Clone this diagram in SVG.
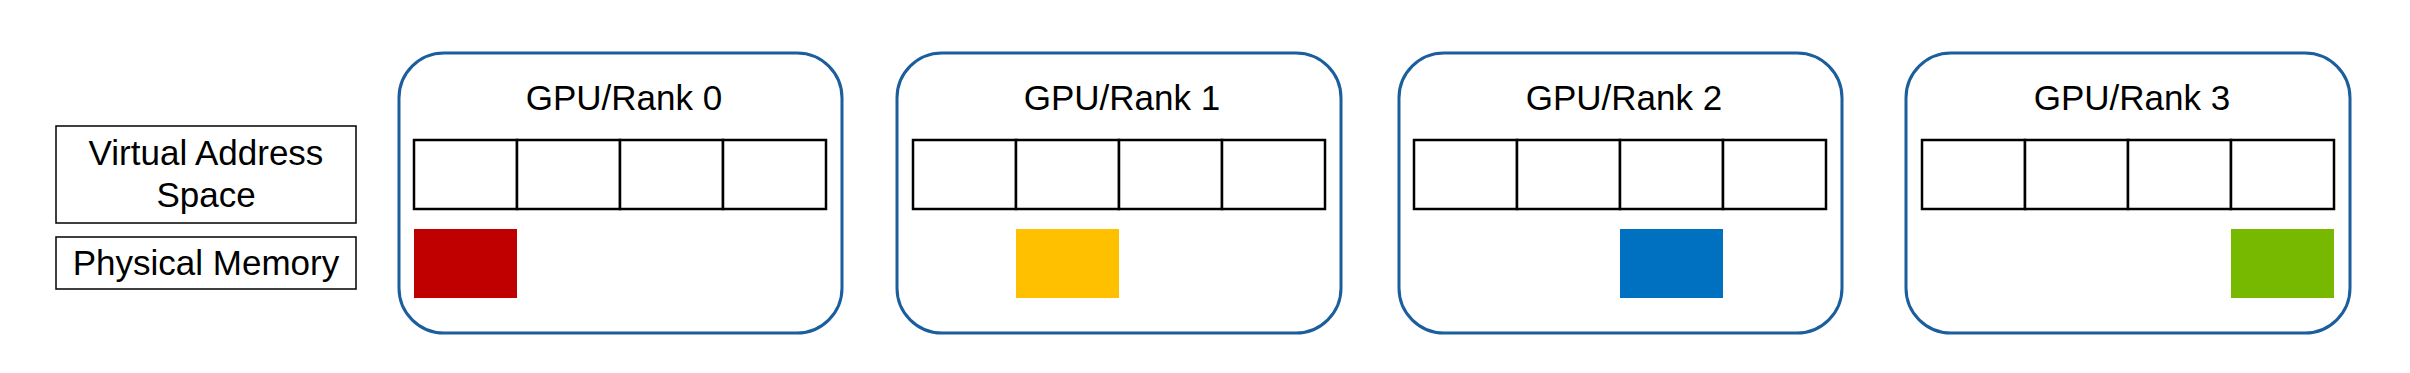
<svg xmlns="http://www.w3.org/2000/svg" width="2410" height="373" viewBox="0 0 2410 373">
<style>
.bg{fill:#ffffff}
.legend{fill:#ffffff;stroke:#000000;stroke-width:1.5}
.gpu{fill:#ffffff;stroke:#1A5E9E;stroke-width:3}
.cell{fill:#ffffff;stroke:#000000;stroke-width:2.5}
.t{font-family:"Liberation Sans",Arial,sans-serif;font-size:35px;fill:#000000;text-anchor:middle}
</style>
<rect class="bg" x="0" y="0" width="2410" height="373"/>
<g id="legend-virtual">
<rect class="legend" x="56" y="126" width="300" height="97"/>
<text class="t" x="206" y="165">Virtual Address</text>
<text class="t" x="206" y="207">Space</text>
</g>
<g id="legend-physical">
<rect class="legend" x="56" y="237" width="300" height="52"/>
<text class="t" x="206" y="275">Physical Memory</text>
</g>
<g id="gpu0">
<rect class="gpu" x="399" y="53" width="443" height="280" rx="45" ry="45"/>
<text class="t" x="624" y="110">GPU/Rank 0</text>
<rect class="cell" x="414" y="140" width="103" height="69"/>
<rect class="cell" x="517" y="140" width="103" height="69"/>
<rect class="cell" x="620" y="140" width="103" height="69"/>
<rect class="cell" x="723" y="140" width="103" height="69"/>
<rect x="414" y="229" width="103" height="69" fill="#C00000"/>
</g>
<g id="gpu1">
<rect class="gpu" x="897" y="53" width="444" height="280" rx="45" ry="45"/>
<text class="t" x="1122" y="110">GPU/Rank 1</text>
<rect class="cell" x="913" y="140" width="103" height="69"/>
<rect class="cell" x="1016" y="140" width="103" height="69"/>
<rect class="cell" x="1119" y="140" width="103" height="69"/>
<rect class="cell" x="1222" y="140" width="103" height="69"/>
<rect x="1016" y="229" width="103" height="69" fill="#FFC000"/>
</g>
<g id="gpu2">
<rect class="gpu" x="1399" y="53" width="443" height="280" rx="45" ry="45"/>
<text class="t" x="1624" y="110">GPU/Rank 2</text>
<rect class="cell" x="1414" y="140" width="103" height="69"/>
<rect class="cell" x="1517" y="140" width="103" height="69"/>
<rect class="cell" x="1620" y="140" width="103" height="69"/>
<rect class="cell" x="1723" y="140" width="103" height="69"/>
<rect x="1620" y="229" width="103" height="69" fill="#0070C0"/>
</g>
<g id="gpu3">
<rect class="gpu" x="1906" y="53" width="444" height="280" rx="45" ry="45"/>
<text class="t" x="2132" y="110">GPU/Rank 3</text>
<rect class="cell" x="1922" y="140" width="103" height="69"/>
<rect class="cell" x="2025" y="140" width="103" height="69"/>
<rect class="cell" x="2128" y="140" width="103" height="69"/>
<rect class="cell" x="2231" y="140" width="103" height="69"/>
<rect x="2231" y="229" width="103" height="69" fill="#76B900"/>
</g>
<g id="connectors"></g>
</svg>
